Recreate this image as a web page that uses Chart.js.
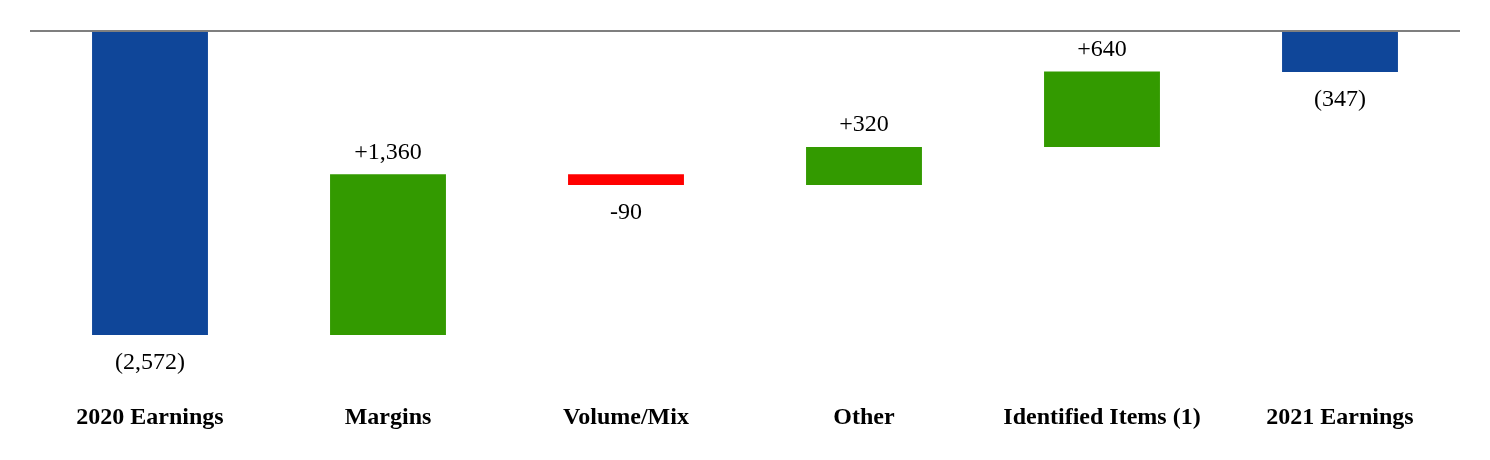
<!DOCTYPE html>
<html>
<head>
<meta charset="utf-8">
<script src="https://cdn.jsdelivr.net/npm/chart.js@4"></script>
<style>
    html, body { margin: 0; padding: 0; background: #ffffff; }
    #wrap { width: 1490px; height: 460px; }
</style>
</head>
<body>
<div id="wrap"><canvas id="waterfallChart"></canvas></div>
<script>
// Categories and values
const categories = ['2020 Earnings', 'Margins', 'Volume/Mix', 'Other', 'Identified Items (1)', '2021 Earnings'];
const changes = [-2572, 1360, -90, 320, 640, -347];
const valueLabels = ['(2,572)', '+1,360', '-90', '+320', '+640', '(347)'];
const isTotal = [true, false, false, false, false, true];

// Build floating bars: totals start at zero, steps start where the previous bar ended
const bars = [];
let running = 0;
changes.forEach((v, i) => {
    if (isTotal[i]) {
        bars.push([0, v]);
        running = v;
    } else {
        bars.push([running, running + v]);
        running += v;
    }
});

const barColors = changes.map((v, i) => {
    if (isTotal[i]) return '#0f4699';
    return v >= 0 ? '#339a00' : '#ff0000';
});

// Zero line and value labels
const waterfallPlugin = {
    id: 'waterfallPlugin',
    afterDatasetsDraw(chart) {
        const ctx = chart.ctx;
        const area = chart.chartArea;
        const y = chart.scales.y;
        const meta = chart.getDatasetMeta(0);

        ctx.save();
        ctx.strokeStyle = '#7f7f7f';
        ctx.lineWidth = 2;
        ctx.beginPath();
        ctx.moveTo(area.left - 1, y.getPixelForValue(0));
        ctx.lineTo(area.right + 1, y.getPixelForValue(0));
        ctx.stroke();

        ctx.font = '24px "Liberation Serif", "Times New Roman", serif';
        ctx.fillStyle = '#000000';
        ctx.textAlign = 'center';
        ctx.textBaseline = 'middle';
        meta.data.forEach((bar, i) => {
            const [a, b] = bars[i];
            const top = y.getPixelForValue(Math.max(a, b));
            const bottom = y.getPixelForValue(Math.min(a, b));
            const up = !isTotal[i] && changes[i] >= 0;
            const ty = up ? top - 22 : bottom + 28;
            ctx.fillText(valueLabels[i], bar.x, ty);
        });
        ctx.restore();
    }
};

new Chart(document.getElementById('waterfallChart'), {
    type: 'bar',
    data: {
        labels: categories,
        datasets: [{
            data: bars,
            backgroundColor: barColors,
            borderWidth: 0,
            categoryPercentage: 1,
            barPercentage: 0.487
        }]
    },
    options: {
        responsive: true,
        maintainAspectRatio: false,
        animation: false,
        layout: {
            padding: { left: 31, right: 31, top: 31, bottom: 0 }
        },
        plugins: {
            legend: { display: false },
            tooltip: { enabled: false }
        },
        scales: {
            x: {
                grid: { display: false },
                border: { display: false },
                afterFit(scale) {
                    scale.height = 98;
                },
                ticks: {
                    color: '#000000',
                    padding: 33,
                    maxRotation: 0,
                    autoSkip: false,
                    font: { family: '"Liberation Serif", "Times New Roman", serif', size: 24, weight: 'bold' }
                }
            },
            y: {
                display: false,
                min: -2800,
                max: 0
            }
        }
    },
    plugins: [waterfallPlugin]
});
</script>
</body>
</html>
